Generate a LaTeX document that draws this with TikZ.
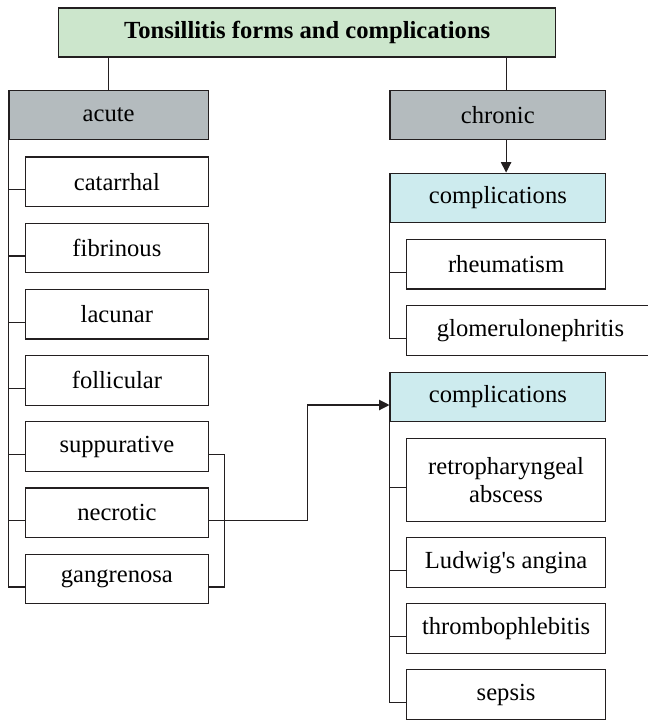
\documentclass[tikz,border=0pt]{standalone}
\usepackage{fontspec}
\setmainfont{Liberation Serif}
\usepackage{tikz}
\usetikzlibrary{arrows.meta,positioning,calc}
\definecolor{linec}{HTML}{231F20}
\definecolor{titlec}{HTML}{CCE6CC}
\definecolor{formc}{HTML}{B4BBBE}
\definecolor{compc}{HTML}{CDEBEE}
\tikzset{
  >={Triangle[length=2.6mm,width=2.6mm]},
  box/.style={draw=linec,line width=0.8pt,fill=white,minimum height=12.4mm,inner sep=1pt,font=\fontsize{17.5}{20}\selectfont,align=center},
  titlebox/.style={box,fill=titlec,minimum width=124.25mm,minimum height=12.25mm,font=\fontsize{17.5}{20}\selectfont\bfseries},
  formbox/.style={box,fill=formc},
  compbox/.style={box,fill=compc,minimum width=53.9mm},
  lbox/.style={box,minimum width=45.65mm},
  rbox/.style={box,minimum width=49.8mm},
  conn/.style={draw=linec,line width=0.8pt},
}

\begin{document}
\begin{tikzpicture}
  \useasboundingbox (0,0) rectangle (16.2,-18);
  \node[titlebox] (title) at (7.68,-0.8125) {Tonsillitis forms and complications};
  \node[formbox,minimum width=49.8mm] (acute) at (2.716,-2.875) {acute};
  \node[formbox,minimum width=53.9mm] (chronic) at (12.446,-2.875) {chronic};
  % forms of acute tonsillitis
  \foreach \t [count=\i] in {catarrhal,fibrinous,lacunar,follicular,suppurative,necrotic,gangrenosa}
    \node[lbox] (f\i) at (2.9225,{-4.545-(\i-1)*1.655}) {\t};
  % complications
  \node[compbox] (comp1) at (12.446,-4.9475) {complications};
  \node[rbox] (rh) at (12.6525,-6.605) {rheumatism};
  \node[rbox,minimum width=62mm] (gl) at (13.2625,-8.26) {glomerulonephritis};
  \node[compbox] (comp2) at (12.446,-9.925) {complications};
  \node[rbox,minimum height=20.7mm] (rp) at (12.6525,-11.9925) {retropharyngeal\\abscess};
  \node[rbox] (lu) at (12.6525,-14.0625) {Ludwig\textquotesingle s angina};
  \node[rbox] (th) at (12.6525,-15.7175) {thrombophlebitis};
  \node[rbox] (se) at (12.6525,-17.3625) {sepsis};
  % connectors
  \draw[conn] (title.south -| acute.north) -- (acute.north);
  \draw[conn] (title.south -| rh.north) -- (chronic.north -| rh.north);
  \draw[conn,->] (chronic.south -| rh.north) -- (comp1.north -| rh.north);
  \foreach \i in {1,...,7}
    \draw[conn] (acute.south west) |- ([yshift=-2mm]f\i.west);
  \draw[conn] ([yshift=-2mm]f5.east) -- ++(0.4,0) |- ([yshift=-2mm]f7.east);
  \draw[conn,->] ([yshift=-2mm]f6.east) -- ++(2.47,0) |- ([yshift=-2mm]comp2.west);
  \foreach \n in {rh,gl}
    \draw[conn] (comp1.south west) |- ([yshift=-2mm]\n.west);
  \foreach \n in {rp,lu,th,se}
    \draw[conn] (comp2.south west) |- ([yshift=-2mm]\n.west);
\end{tikzpicture}
\end{document}
